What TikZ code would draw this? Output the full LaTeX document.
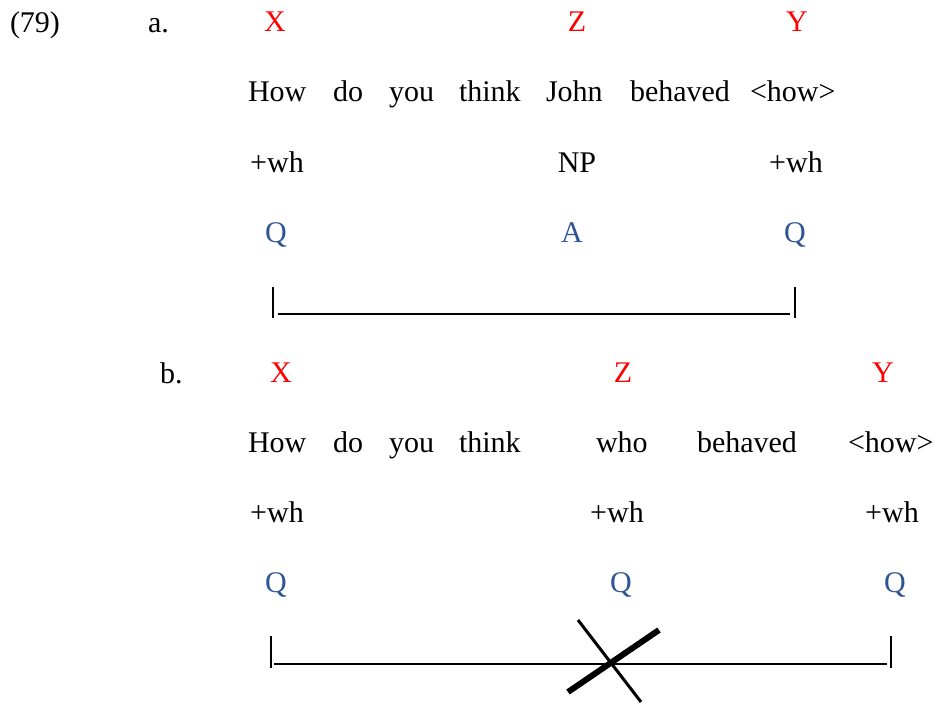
\documentclass[tikz,border=0pt]{standalone}
\usepackage{fontspec}
\setmainfont{Liberation Serif}
\definecolor{glred}{RGB}{255,0,0}
\definecolor{glblue}{RGB}{47,84,150}
\begin{document}
\begin{tikzpicture}[x=1pt,y=-1pt,
  every node/.style={inner sep=0pt,outer sep=0pt,font=\fontsize{30}{35}\selectfont},
  wordw/.style={anchor=base west},
  wordc/.style={anchor=base},
  idx/.style={anchor=base,text=glred},
  feat/.style={anchor=base,text=glblue},
  brk/.style={line width=1.6pt},
  brkv/.style={line width=2.2pt}]
\useasboundingbox (0,0) rectangle (945,706);
% example number and labels
\node[wordw] (num) at (10,33) {(79)};
\node[wordw] (la) at (148,33) {a.};
\node[wordw] (lb) at (160,383) {b.};
% (a) indices
\node[idx] (aX) at (275,32) {X};
\node[idx] (aZ) at (577,32) {Z};
\node[idx] (aY) at (797,32) {Y};
% (a) words
\node[wordw] (aw1) at (248,102) {How};
\node[wordw] (aw2) at (333,102) {do};
\node[wordw] (aw3) at (389,102) {you};
\node[wordw] (aw4) at (459,102) {think};
\node[wordw] (aw5) at (546,102) {John};
\node[wordw] (aw6) at (630,102) {behaved};
\node[wordw] (aw7) at (750,102) {<how>};
% (a) features
\node[wordc] (af1) at (277,172) {+wh};
\node[wordc] (af2) at (577,172) {NP};
\node[wordc] (af3) at (796,172) {+wh};
\node[feat] (aq1) at (276,242) {Q};
\node[feat] (aq2) at (572,242) {A};
\node[feat] (aq3) at (795,242) {Q};
% (a) bracket
\coordinate (aL) at (273,287);
\coordinate (aR) at (795,287);
\draw[brkv] (aL) -- ++(0,31);
\draw[brkv] (aR) -- ++(0,31);
\draw[brk] ([xshift=5pt,yshift=-27pt]aL) -- ([xshift=-5pt,yshift=-27pt]aR);
% (b) indices
\node[idx] (bX) at (281,382) {X};
\node[idx] (bZ) at (623,382) {Z};
\node[idx] (bY) at (883,382) {Y};
% (b) words
\node[wordw] (bw1) at (248,452) {How};
\node[wordw] (bw2) at (333,452) {do};
\node[wordw] (bw3) at (389,452) {you};
\node[wordw] (bw4) at (459,452) {think};
\node[wordw] (bw5) at (596,452) {who};
\node[wordw] (bw6) at (697,452) {behaved};
\node[wordw] (bw7) at (848,452) {<how>};
% (b) features
\node[wordc] (bf1) at (277,522) {+wh};
\node[wordc] (bf2) at (617,522) {+wh};
\node[wordc] (bf3) at (892,522) {+wh};
\node[feat] (bq1) at (276,592) {Q};
\node[feat] (bq2) at (621,592) {Q};
\node[feat] (bq3) at (895,592) {Q};
% (b) bracket
\coordinate (bL) at (271,636);
\coordinate (bR) at (891,636);
\draw[brkv] (bL) -- ++(0,32);
\draw[brkv] (bR) -- ++(0,32);
\draw[brk] ([xshift=3pt,yshift=-28pt]bL) -- ([xshift=-4pt,yshift=-28pt]bR);
% cross
\coordinate (c1) at (578,620);
\coordinate (c2) at (641,702);
\coordinate (c3) at (568,692);
\coordinate (c4) at (659,630);
\draw[line width=3pt] (c1) -- (c2);
\draw[line width=6pt] (c3) -- (c4);
\end{tikzpicture}
\end{document}
